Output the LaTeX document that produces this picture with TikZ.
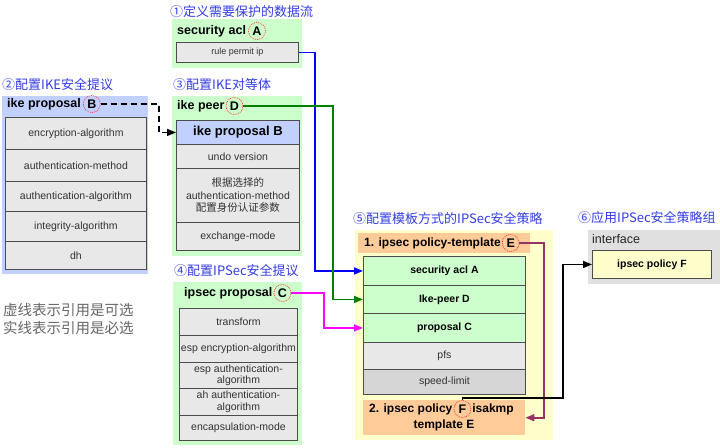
\documentclass[tikz,border=0pt]{standalone}
\usepackage{fontspec}
\setmainfont{Liberation Sans}
\newfontfamily\cjk{Noto Sans CJK SC}
\usetikzlibrary{arrows.meta}
\definecolor{ttl}{RGB}{50,60,230}
\definecolor{gfill}{RGB}{204,255,204}
\definecolor{bfill}{RGB}{194,208,255}
\definecolor{ofill}{RGB}{255,204,153}
\definecolor{yfill}{RGB}{255,255,204}
\definecolor{ifill}{RGB}{224,224,224}
\definecolor{rfill}{RGB}{232,232,232}
\definecolor{sfill}{RGB}{214,214,214}
\definecolor{pline}{RGB}{150,50,100}
\definecolor{mline}{RGB}{255,0,255}
\definecolor{gline}{RGB}{0,130,0}
\definecolor{bline}{RGB}{0,0,255}
\begin{document}
\begin{tikzpicture}[x=1pt,y=-1pt,
  title/.style={anchor=west,inner sep=0pt,text=ttl,font=\cjk\fontsize{13}{15}\selectfont},
  area/.style={anchor=north west,inner sep=0pt,draw=none},
  row/.style={anchor=north west,inner sep=0pt,draw=black!70,line width=0.9pt,fill=rfill,
    align=center,text=black!80,font=\fontsize{10.5}{12.5}\selectfont},
  boldrow/.style={row,fill=gfill,text=black,font=\bfseries\fontsize{10.5}{12.5}\selectfont},
  hdr/.style={anchor=west,inner sep=0pt,font=\bfseries\fontsize{12.5}{15}\selectfont},
  ohdr/.style={anchor=west,inner sep=0pt,font=\bfseries\fontsize{12}{15}\selectfont},
  letter/.style={circle,draw=red!85,dash pattern=on 1pt off 0.9pt,line width=0.6pt,
    inner sep=0pt,minimum size=17pt,font=\bfseries\fontsize{12.5}{15}\selectfont},
  conn/.style={line width=1.6pt,-{Triangle[length=9pt,width=7pt]}},
  legend/.style={anchor=west,inner sep=0pt,text=black!60,font=\cjk\fontsize{14.5}{17}\selectfont}
]
\useasboundingbox (0,0) rectangle (720,447);

% titles
\node[title] (t1) at (170,12) {①定义需要保护的数据流};
\node[title] (t2) at (2,85) {②配置IKE安全提议};
\node[title] (t3) at (173,85) {③配置IKE对等体};
\node[title] (t4) at (174,271) {④配置IPSec安全提议};
\node[title] (t5) at (353,219) {⑤配置模板方式的IPSec安全策略};
\node[title] (t6) at (578,218) {⑥应用IPSec安全策略组};

% security acl
\node[area,fill=gfill,minimum width=130pt,minimum height=49pt] (gA) at (172,19) {};
\node[hdr] (hA) at (177,31) {security acl};
\node[letter,anchor=west] (A) at ([xshift=2pt]hA.east) {A};
\node[row,minimum width=122pt,minimum height=20pt,font=\fontsize{9}{11}\selectfont] (rp) at (176,42) {rule permit ip};

% ike proposal
\node[area,fill=bfill,minimum width=146pt,minimum height=178pt] (bB) at (2,96) {};
\node[hdr] (hB) at (7,104) {ike proposal};
\node[letter,anchor=west] (B) at ([xshift=2pt]hB.east) {B};
\node[row,minimum width=141pt,minimum height=32pt] (b1) at (5,117) {encryption-algorithm};
\node[row,minimum width=141pt,minimum height=32pt] (b2) at (5,149) {authentication-method};
\node[row,minimum width=141pt,minimum height=30pt] (b3) at (5,181) {authentication-algorithm};
\node[row,minimum width=141pt,minimum height=30pt] (b4) at (5,211) {integrity-algorithm};
\node[row,minimum width=141pt,minimum height=28pt] (b5) at (5,241) {dh};

% ike peer
\node[area,fill=gfill,minimum width=130pt,minimum height=160pt] (gD) at (172,96) {};
\node[hdr] (hD) at (177,106) {ike peer};
\node[letter,anchor=west] (D) at ([xshift=1pt]hD.east) {D};
\node[row,fill=bfill,text=black,minimum width=123pt,minimum height=24pt,font=\bfseries\fontsize{13}{15}\selectfont] (ikeB) at (176,120) {ike proposal B};
\node[row,minimum width=123pt,minimum height=24pt] (d2) at (176,144) {undo version};
\node[row,minimum width=123pt,minimum height=54pt] (d3) at (176,168) {{\cjk 根据选择的}\\authentication-method\\{\cjk 配置身份认证参数}};
\node[row,minimum width=123pt,minimum height=28pt] (d4) at (176,222) {exchange-mode};

% ipsec proposal
\node[area,fill=gfill,minimum width=129pt,minimum height=163pt] (gC) at (173,282) {};
\node[hdr] (hC) at (184,293) {ipsec proposal};
\node[letter,anchor=west] (C) at ([xshift=1pt]hC.east) {C};
\node[row,minimum width=118pt,minimum height=27pt] (c1) at (179,308) {transform};
\node[row,minimum width=118pt,minimum height=27pt] (c2) at (179,335) {esp encryption-algorithm};
\node[row,minimum width=118pt,minimum height=26pt,font=\fontsize{10.5}{11.5}\selectfont] (c3) at (179,362) {esp authentication-\\algorithm};
\node[row,minimum width=118pt,minimum height=27pt,font=\fontsize{10.5}{11.5}\selectfont] (c4) at (179,388) {ah authentication-\\algorithm};
\node[row,minimum width=118pt,minimum height=25pt] (c5) at (179,415) {encapsulation-mode};

% legend
\node[legend] (l1) at (3,310) {虚线表示引用是可选};
\node[legend] (l2) at (3,328) {实线表示引用是必选};

% policy template
\node[area,fill=yfill,minimum width=198pt,minimum height=210pt] (yP) at (355,230) {};
\node[area,fill=ofill,minimum width=172pt,minimum height=20pt] (oh) at (358,233) {};
\node[ohdr] (hE) at (364,243) {1. ipsec policy-template};
\node[letter,anchor=west] (E) at ([xshift=1pt]hE.east) {E};
\node[boldrow,minimum width=162pt,minimum height=29pt] (sA) at (363,256) {security acl A};
\node[boldrow,minimum width=162pt,minimum height=28pt] (sD) at (363,285) {Ike-peer D};
\node[boldrow,minimum width=162pt,minimum height=29pt] (sC) at (363,313) {proposal C};
\node[row,minimum width=162pt,minimum height=27pt] (sP) at (363,342) {pfs};
\node[row,fill=sfill,minimum width=162pt,minimum height=25pt] (sS) at (363,369) {speed-limit};
\node[area,fill=ofill,minimum width=162pt,minimum height=35pt] (foot) at (363,400) {};
\node[ohdr] (f1) at (369,409) {2. ipsec policy};
\node[letter,anchor=west] (F) at ([xshift=1pt]f1.east) {F};
\node[ohdr] (f2) at ([xshift=1pt]F.east) {isakmp};
\node[ohdr,anchor=center] (f3) at (444,425) {template E};

% interface
\node[area,fill=ifill,minimum width=132pt,minimum height=54pt] (ifc) at (588,230) {};
\node[anchor=west,inner sep=0pt,font=\fontsize{12.5}{15}\selectfont,text=black!85] (ifl) at (592,239) {interface};
\node[row,fill=yfill,text=black,minimum width=119pt,minimum height=28pt,font=\bfseries\fontsize{10.5}{12.5}\selectfont] (ipf) at (592,250) {ipsec policy F};

% connectors
\coordinate (bx) at (315,150);
\coordinate (gx) at (333,200);
\coordinate (mx) at (324,310);
\coordinate (dx) at (159,117);
\coordinate (px) at (544,330);
\coordinate (k1) at (563,398);
\draw[conn,bline] (rp.east) -| (bx) |- (sA.west);
\draw[conn,gline] (D.east) -| (gx) |- (sD.west);
\draw[conn,mline] (C.east) -| (mx) |- (sC.west);
\draw[conn,black,line width=1.5pt,dash pattern=on 6pt off 4pt] (B.east) -| (dx) |- (ikeB.west);
\draw[conn,pline] (E.east) -| (px) |- (foot.east);
\draw[conn,black,line width=1.5pt] (F.north) |- (k1) |- (ipf.west);
\end{tikzpicture}
\end{document}
